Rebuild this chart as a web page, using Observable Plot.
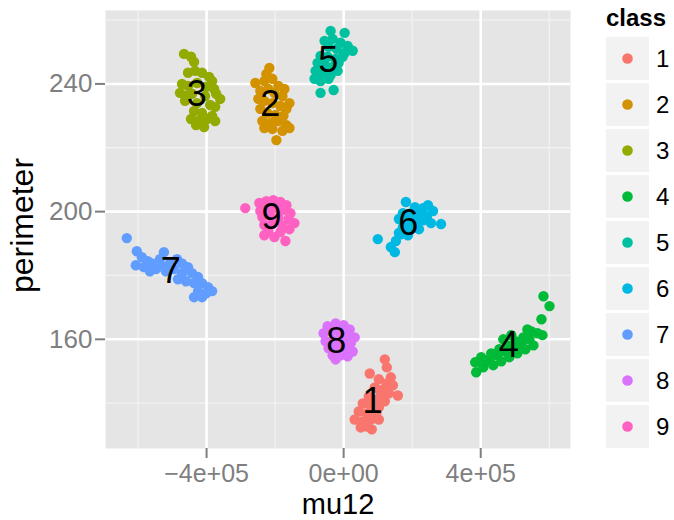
<!DOCTYPE html>
<html>
<head>
<meta charset="utf-8">
<script src="https://cdn.jsdelivr.net/npm/d3@7"></script>
<script src="https://cdn.jsdelivr.net/npm/@observablehq/plot@0.6"></script>
<style>
  html, body { margin: 0; padding: 0; background: #fff; }
  #chart { position: relative; width: 674px; height: 520px; font-family: "Liberation Sans", Arial, sans-serif; }
  #chart > svg { position: absolute; left: 0; top: 0; }
</style>
</head>
<body>
<div id="chart"></div>
<script>
// Classes and their ggplot hue colours
const classes = ["1", "2", "3", "4", "5", "6", "7", "8", "9"];
const classColors = ["#F8766D", "#D39200", "#93AA00", "#00BA38", "#00C19F", "#00B9E3", "#619CFF", "#DB72FB", "#FF61C3"];

// Observations per class: [mu12, perimeter]
const class1 = [[120100,153.7],[126000,151.2],[76200,149.3],[102600,147.5],[137700,148.1],[143600,145.6],[158200,142.4],[90800,144.9],[114300,144.3],[131900,143.1],[73300,142.1],[96700,141.2],[120100,140.6],[55700,139.9],[79100,139.3],[102600,138.7],[44000,137.4],[67400,136.8],[90800,136.2],[32200,134.9],[55700,134.3],[79100,134.9],[102600,134.9],[49800,132.4],[67400,132.7],[82000,131.8],[61500,133.0],[96700,137.4],[126000,146.2],[108400,143.1]];
const class2 = [[-216800,245.0],[-225600,243.1],[-257800,240.3],[-231500,240.9],[-208000,241.6],[-190500,239.4],[-172900,238.4],[-243200,237.8],[-219800,238.4],[-202200,237.2],[-178700,236.2],[-158200,234.0],[-249100,235.3],[-231500,234.7],[-208000,234.0],[-184600,233.1],[-167000,232.2],[-243200,232.2],[-222700,230.9],[-199200,230.3],[-175800,230.0],[-237300,228.4],[-213900,227.8],[-190500,228.4],[-167000,227.1],[-231500,226.2],[-208000,225.9],[-178700,225.3],[-158200,226.2],[-196300,222.4]];
const class3 = [[-465900,249.4],[-445400,248.5],[-436600,246.9],[-454200,243.5],[-433600,244.1],[-413100,243.5],[-392600,242.2],[-383800,240.9],[-471700,240.0],[-454200,239.4],[-427800,240.3],[-401400,239.1],[-378000,238.4],[-477600,237.2],[-460000,236.2],[-442400,236.9],[-404300,236.2],[-372100,236.9],[-360400,235.3],[-462900,234.7],[-427800,234.0],[-389700,233.4],[-375000,232.8],[-436600,231.5],[-413100,230.9],[-383800,230.0],[-445400,229.0],[-424900,228.4],[-398500,229.0],[-375000,228.4],[-430700,227.1],[-407300,226.5]];
const class4 = [[583100,173.5],[600700,170.4],[577200,166.3],[580100,161.3],[383800,152.8],[386800,149.7],[407300,151.2],[424900,153.7],[436600,151.9],[448300,155.0],[460000,153.1],[471700,156.2],[483500,154.4],[495200,157.5],[506900,155.6],[518600,158.8],[530300,156.9],[542100,160.0],[553800,158.1],[565500,161.9],[547900,162.5],[524500,160.6],[501000,159.4],[477600,158.1],[454200,156.9],[430700,155.6],[465900,160.0],[489300,161.3],[536200,163.1],[413100,153.1],[401400,154.4],[512800,157.5],[483500,156.2]];
const class5 = [[-38100,256.6],[2900,256.0],[-55700,253.5],[-32200,254.1],[-8800,252.9],[11700,251.9],[26400,250.4],[-44000,251.6],[-20500,251.0],[2900,249.7],[-67400,248.8],[-46900,248.5],[-23400,247.8],[-2900,248.5],[-76200,246.6],[-55700,246.0],[-32200,245.3],[-14700,246.6],[-82000,244.1],[-61500,243.5],[-38100,242.8],[-17600,244.1],[-85000,241.6],[-67400,240.9],[-44000,241.6],[-67400,237.2],[-29300,238.1]];
const class6 = [[181700,203.0],[246100,202.0],[208000,201.4],[231500,201.1],[260800,200.2],[172900,199.5],[196300,199.5],[219800,199.2],[243200,198.6],[161200,197.7],[184600,197.3],[208000,197.0],[231500,197.3],[254900,196.4],[284200,196.1],[172900,195.1],[196300,194.8],[219800,194.5],[161200,193.3],[187500,192.6],[99600,191.4],[152400,190.8],[137700,188.9],[149400,187.3],[167000,192.9],[211000,195.8]];
const class7 = [[-632900,191.7],[-603600,187.6],[-588900,185.7],[-571400,184.5],[-606500,183.2],[-583100,182.6],[-559600,183.8],[-536200,185.1],[-524500,187.3],[-506900,183.8],[-486400,185.1],[-471700,183.8],[-547900,182.0],[-518600,181.3],[-495200,182.0],[-454200,182.6],[-471700,180.7],[-442400,180.7],[-424900,179.5],[-460000,178.2],[-436600,177.6],[-413100,177.6],[-395600,176.3],[-424900,175.1],[-401400,174.4],[-436600,173.2],[-413100,173.2],[-383800,175.1],[-483500,178.8],[-530300,182.9],[-565500,181.3]];
const class8 = [[-46900,164.1],[-23400,165.0],[0,164.4],[17600,163.1],[-58600,161.9],[-35200,162.5],[-11700,162.2],[11700,161.3],[32200,160.6],[-52700,159.4],[-29300,159.7],[-2900,159.4],[20500,158.8],[-44000,157.2],[-20500,157.5],[2900,156.9],[26400,156.2],[-32200,155.0],[-8800,155.0],[11700,154.7],[-23400,153.7]];
const class9 = [[-287100,201.1],[-246100,202.7],[-225600,203.3],[-205100,203.6],[-184600,203.0],[-167000,202.0],[-243200,200.2],[-222700,200.8],[-202200,201.1],[-178700,200.5],[-155300,199.5],[-237300,198.3],[-213900,198.6],[-190500,198.0],[-161200,197.7],[-143600,196.4],[-231500,195.8],[-208000,196.1],[-178700,195.5],[-158200,194.5],[-231500,192.6],[-202200,192.0],[-169900,190.8],[-219800,193.9],[-184600,193.6]];

// Axis ticks and labels
const xTicks = [-400000, 0, 400000];
const xTickLabels = ["\u22124e+05", "0e+00", "4e+05"];
const xMinor = [-600000, -200000, 200000, 600000];
const yTicks = [160, 200, 240];
const yTickLabels = ["160", "200", "240"];
const yMinor = [140, 180, 220, 260];

const pointSets = [class1, class2, class3, class4, class5, class6, class7, class8, class9];
const rows = [];
classes.forEach((c, i) => pointSets[i].forEach(([m, p]) => rows.push({cls: c, mu12: m, perimeter: p})));

const font = "'Liberation Sans', Arial, sans-serif";
const grey50 = "#7F7F7F";

const plot = Plot.plot({
  width: 580,
  height: 520,
  marginLeft: 105,
  marginRight: 10,
  marginTop: 10,
  marginBottom: 72,
  style: {fontFamily: font, background: "transparent", overflow: "visible"},
  x: {domain: [-695000, 662000]},
  y: {domain: [125.8, 263]},
  color: {domain: classes, range: classColors},
  marks: [
    Plot.frame({fill: "#E5E5E5", stroke: null}),
    Plot.gridX(xMinor, {stroke: "#F2F2F2", strokeOpacity: 1, strokeWidth: 1.3}),
    Plot.gridY(yMinor, {stroke: "#F2F2F2", strokeOpacity: 1, strokeWidth: 1.3}),
    Plot.gridX(xTicks, {stroke: "#FFFFFF", strokeOpacity: 1, strokeWidth: 2.6}),
    Plot.gridY(yTicks, {stroke: "#FFFFFF", strokeOpacity: 1, strokeWidth: 2.6}),
    Plot.axisX(xTicks, {tickSize: 10, tickPadding: 6, fontSize: 25, color: grey50, strokeWidth: 2,
      tickFormat: d => xTickLabels[xTicks.indexOf(d)], label: null}),
    Plot.axisY(yTicks, {tickSize: 10, tickPadding: 3, fontSize: 26, color: grey50, strokeWidth: 2,
      tickFormat: d => yTickLabels[yTicks.indexOf(d)], label: null}),
    Plot.dot(rows, {x: "mu12", y: "perimeter", fill: "cls", r: 5.2}),
    // class labels at each cluster's mean position
    Plot.text(rows, Plot.groupZ({x: "mean", y: "mean", text: "first"},
      {x: "mu12", y: "perimeter", z: "cls", text: "cls", fontSize: 36, fill: "black", dx: -3})),
    Plot.text(["mu12"], {text: d => d, frameAnchor: "bottom", lineAnchor: "middle", textAnchor: "middle",
      dy: 56, fontSize: 29, fill: "black"}),
    Plot.text(["perimeter"], {text: d => d, frameAnchor: "left", lineAnchor: "middle", textAnchor: "middle",
      dx: -83, dy: -4, rotate: -90, fontSize: 32, fill: "black"})
  ]
});

const chart = document.getElementById("chart");
chart.appendChild(plot);

// Legend: grey key boxes with class colour dots
const legend = d3.select(chart).append("svg")
  .attr("width", 674).attr("height", 520)
  .style("font-family", font);
legend.append("text").attr("x", 606).attr("y", 26)
  .attr("font-size", 24).attr("font-weight", "bold").attr("fill", "black").text("class");
classes.forEach((c, i) => {
  const top = 37 + 46 * i;
  legend.append("rect").attr("x", 606).attr("y", top).attr("width", 43).attr("height", 43).attr("fill", "#F2F2F2");
  legend.append("circle").attr("cx", 627.5).attr("cy", top + 21.5).attr("r", 5.3).attr("fill", classColors[i]);
  legend.append("text").attr("x", 656).attr("y", top + 21.5).attr("dy", "0.35em")
    .attr("font-size", 24).attr("fill", "black").text(c);
});
</script>
</body>
</html>
